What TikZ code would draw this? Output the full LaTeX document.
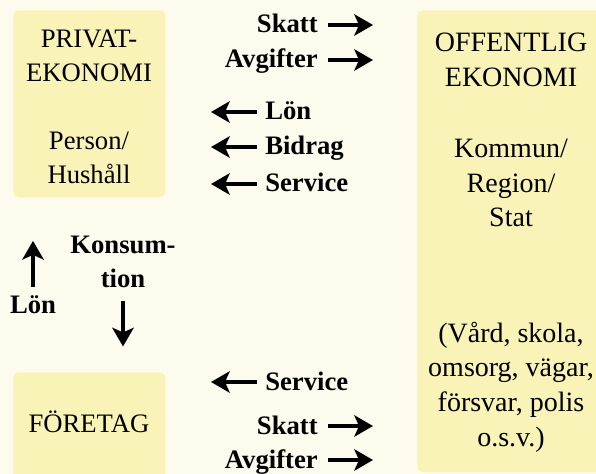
\documentclass[tikz,border=0pt]{standalone}
\usepackage{fontspec}
\setmainfont{Liberation Serif}
\usetikzlibrary{arrows.meta}

\definecolor{bakgrund}{RGB}{253,251,238}
\definecolor{rutgul}{RGB}{249,243,184}

\tikzset{
  ruta/.style={fill=rutgul, rounded corners=4pt, inner sep=0pt, anchor=north west},
  rubrik/.style={font=\fontsize{20}{25.5}\selectfont, align=center, inner sep=0pt},
  storrubrik/.style={font=\fontsize{21}{26}\selectfont, align=center, inner sep=0pt},
  etikett/.style={font=\fontsize{20}{25.5}\selectfont\bfseries, align=center, inner sep=0pt},
  pil/.style={line width=3.6pt, -{Stealth[length=14pt,width=16pt,inset=3.5pt]}}
}

\begin{document}
\begin{tikzpicture}[x=0.75pt,y=0.75pt,yscale=-1,xscale=1]
\useasboundingbox (0,0) rectangle (596,474);
\clip (0,0) rectangle (596,474);
\fill[bakgrund] (0,0) rectangle (596,474);

% rutorna
\node[ruta, minimum width=114pt, minimum height=140.25pt] (privat) at (13,10) {};
\node[ruta, minimum width=141pt, minimum height=346.5pt] (offentlig) at (417,10) {};
\node[ruta, minimum width=114pt, minimum height=84pt] (foretag) at (13,372) {};

% texter i rutorna
\node[rubrik] (privattext) at (89,107) {PRIVAT-\\EKONOMI\\[25.5pt]Person/\\Hushåll};
\node[storrubrik] (offtext) at (511,60) {OFFENTLIG\\EKONOMI};
\node[storrubrik] (offnivå) at (511,183) {Kommun/\\Region/\\Stat};
\node[storrubrik] (offexempel) at (511,387) {(Vård, skola,\\omsorg, vägar,\\försvar, polis\\o.s.v.)};
\node[rubrik, anchor=base] (foretagtext) at (89,432) {FÖRETAG};

% till det offentliga
\node[etikett, anchor=base east] (skatt1) at (318,33) {Skatt};
\node[etikett, anchor=base east] (avgift1) at (318,68) {Avgifter};
\node[etikett, anchor=base east] (skatt2) at (318,434) {Skatt};
\node[etikett, anchor=base east] (avgift2) at (318,468) {Avgifter};

% från det offentliga
\node[etikett, anchor=base west] (lon1) at (265,120) {Lön};
\node[etikett, anchor=base west] (bidrag) at (265,155) {Bidrag};
\node[etikett, anchor=base west] (service1) at (265,192) {Service};
\node[etikett, anchor=base west] (service2) at (265,390) {Service};

% mellan hushåll och företag
\node[etikett, anchor=base] (lon2) at (33,313) {Lön};
\node[etikett] (konsum) at (123,262) {Konsum-\\tion};

\draw[pil] ([xshift=7.5pt,yshift=-6pt]skatt1.base east) -- ++(45,0);
\draw[pil] ([xshift=7.5pt,yshift=-6pt]avgift1.base east) -- ++(45,0);
\draw[pil] ([xshift=7.5pt,yshift=-6pt]skatt2.base east) -- ++(45,0);
\draw[pil] ([xshift=7.5pt,yshift=-6pt]avgift2.base east) -- ++(45,0);
\draw[pil] ([xshift=-6pt,yshift=-6pt]lon1.base west) -- ++(-46,0);
\draw[pil] ([xshift=-6pt,yshift=-6pt]bidrag.base west) -- ++(-46,0);
\draw[pil] ([xshift=-6pt,yshift=-6pt]service1.base west) -- ++(-46,0);
\draw[pil] ([xshift=-6pt,yshift=-6pt]service2.base west) -- ++(-46,0);
\draw[pil] ([yshift=-6pt]lon2.north) -- ++(0,-46);
\draw[pil] ([yshift=10pt]konsum.south) -- ++(0,45);
\end{tikzpicture}
\end{document}
